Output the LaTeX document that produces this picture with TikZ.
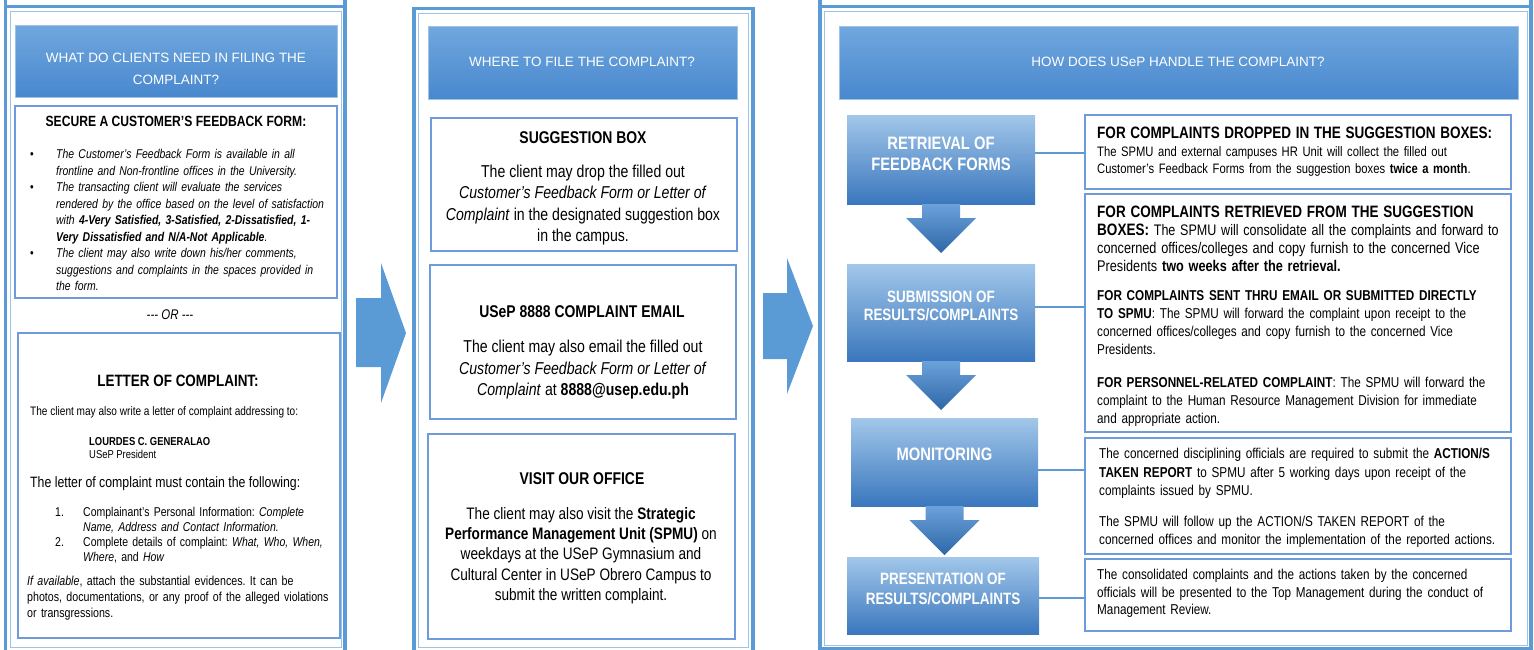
\documentclass[tikz,border=0pt]{standalone}
\usepackage{fontspec}
\usepackage{tikz}
\setmainfont{Liberation Sans}
\newfontfamily\narrowfont[FakeStretch=0.82]{Liberation Sans}
\definecolor{framecol}{HTML}{5B9BD5}
\definecolor{framelight}{HTML}{9DC3E6}
\definecolor{cardcol}{HTML}{6E9BDB}
\definecolor{headtop}{HTML}{70A7DE}
\definecolor{headbot}{HTML}{4988CE}
\definecolor{steptop}{HTML}{A2C7EA}
\definecolor{stepbot}{HTML}{3A77BD}
\definecolor{flowtop}{HTML}{6CA2DA}
\definecolor{flowbot}{HTML}{2D67A8}

\begin{document}
\frenchspacing
\begin{tikzpicture}[x=1pt,y=-1pt,
    panelframe/.style={draw=framecol, line width=3.2pt},
    innerframe/.style={draw=framelight, line width=1pt},
    headbox/.style={rectangle, top color=headtop, bottom color=headbot, draw=framelight, line width=0.6pt, inner sep=0pt, outer sep=0pt},
    headtext/.style={text=white, align=center, inner sep=0pt, font=\fontsize{13.5}{21.5}\selectfont},
    card/.style={rectangle, draw=cardcol, line width=1.2pt, fill=white, inner sep=0pt, outer sep=0pt},
    stepbox/.style={rectangle, top color=steptop, bottom color=stepbot, inner sep=0pt, outer sep=0pt},
    steptext/.style={text=white, align=center, inner sep=0pt},
    bodytext/.style={align=left, inner sep=0pt, anchor=north west},
    midtext/.style={align=center, inner sep=0pt, anchor=north},
    flowdown/.style={top color=flowtop, bottom color=flowbot},
    flowside/.style={fill=framecol},
    link/.style={draw=framecol, line width=1.8pt}
]

\useasboundingbox (0,0) rectangle (1534,649);

\draw[panelframe] (5.5,0) -- (5.5,660);
\draw[panelframe] (345,0) -- (345,660);
\draw[panelframe] (5.5,6.5) -- (345,6.5);
\draw[innerframe] (10,11) rectangle (341,647);

\draw[panelframe] (414,8.5) rectangle (753,660);
\draw[innerframe] (418.5,13) rectangle (748.5,647);

\draw[panelframe] (820,0) -- (820,660);
\draw[panelframe] (1531,0) -- (1531,660);
\draw[panelframe] (820,6.5) -- (1531,6.5);
\draw[panelframe] (820,649) -- (1531,649);
\draw[innerframe] (824.5,11) rectangle (1527,645.5);

\fill[flowside] (356,298) -- (381,298) -- (381,263) -- (406,333) -- (381,403) -- (381,367) -- (356,367) -- cycle;
\fill[flowside] (763,293) -- (787,293) -- (787,258) -- (813,326) -- (787,394) -- (787,359) -- (763,359) -- cycle;

\node[headbox, minimum width=322pt, minimum height=72pt] (needhead) at (176,61) {};
\node[card, minimum width=322pt, minimum height=192pt] (formcard) at (176,202) {};
\node[card, minimum width=322pt, minimum height=305pt] (lettercard) at (179,485.5) {};

\node[headbox, minimum width=309pt, minimum height=73pt] (wherehead) at (582.5,62.5) {};
\node[card, minimum width=306pt, minimum height=133pt] (boxcard) at (584,184.5) {};
\node[card, minimum width=306pt, minimum height=154pt] (mailcard) at (583,342) {};
\node[card, minimum width=307pt, minimum height=205pt] (officecard) at (581.5,536.5) {};

\node[headbox, minimum width=679pt, minimum height=73pt] (howhead) at (1178.5,62.5) {};
\node[stepbox, minimum width=188pt, minimum height=89pt] (retrieval) at (941,159.5) {};
\node[stepbox, minimum width=188pt, minimum height=97pt] (submission) at (941,312.5) {};
\node[stepbox, minimum width=187pt, minimum height=88pt] (monitoring) at (944.5,462) {};
\node[stepbox, minimum width=192pt, minimum height=77pt] (presentation) at (943,595.5) {};
\node[card, minimum width=426pt, minimum height=74pt] (dropped) at (1298,152) {};
\node[card, minimum width=426pt, minimum height=238pt] (retrieved) at (1298,313) {};
\node[card, minimum width=426pt, minimum height=116pt] (followup) at (1298,496) {};
\node[card, minimum width=426pt, minimum height=72pt] (review) at (1298,595) {};

\foreach \a in {retrieval, submission, monitoring}
    \shade[flowdown] ([xshift=-19pt]\a.south) -- ([xshift=-19pt,yshift=-14pt]\a.south) -- ([xshift=-35pt,yshift=-14pt]\a.south) -- ([yshift=-49pt]\a.south) -- ([xshift=35pt,yshift=-14pt]\a.south) -- ([xshift=19pt,yshift=-14pt]\a.south) -- ([xshift=19pt]\a.south) -- cycle;

\foreach \a/\b/\s in {retrieval/dropped/6.5pt, submission/retrieved/5.5pt, monitoring/followup/-8pt, presentation/review/-2.5pt}{
    \coordinate (from) at ([yshift=\s]\a.east);
    \draw[link] (from) -- (from -| \b.west);
}

\node[headtext] (needtitle) at (176,69) {WHAT DO CLIENTS NEED IN FILING THE\\COMPLAINT?};

\node[midtext, font=\narrowfont\bfseries\fontsize{14.8}{17}\selectfont] (formhead) at (176,116) {SECURE A CUSTOMER’S FEEDBACK FORM:};

\node[bodytext, text width=330pt, font=\narrowfont\itshape\fontsize{12.75}{16.5}\selectfont] (formlist) at (30,142) {%
\begin{list}{}{\setlength\leftmargin{26pt}\setlength\labelwidth{26pt}\setlength\labelsep{0pt}\setlength\itemsep{0pt}\setlength\parsep{0pt}\setlength\topsep{0pt}\setlength\partopsep{0pt}}
\item[{\makebox[26pt][l]{\upshape\textbullet}}] The Customer’s Feedback Form is available in all\\ frontline and Non-frontline offices in the University.
\item[{\makebox[26pt][l]{\upshape\textbullet}}] The transacting client will evaluate the services\\ rendered by the office based on the level of satisfaction\\ with \textbf{4-Very Satisfied, 3-Satisfied, 2-Dissatisfied, 1-}\\ \textbf{Very Dissatisfied and N/A-Not Applicable}.
\item[{\makebox[26pt][l]{\upshape\textbullet}}] The client may also write down his/her comments,\\ suggestions and complaints in the spaces provided in\\ the form.
\end{list}};

\node[inner sep=0pt, font=\narrowfont\itshape\fontsize{14}{16}\selectfont] (ordash) at (170,315) {-{}-{}- OR -{}-{}-};

\node[midtext, font=\narrowfont\bfseries\fontsize{16.4}{19}\selectfont] (letterhead) at (178,375.3) {LETTER OF COMPLAINT:};

\node[bodytext, font=\narrowfont\fontsize{12.3}{14}\selectfont] (letterline) at (30,406.7) {The client may also write a letter of complaint addressing to:};

\node[bodytext, font=\narrowfont\fontsize{11.5}{13}\selectfont] (addressee) at (89,437) {\textbf{LOURDES C. GENERALAO}\\USeP President};

\node[bodytext, font=\narrowfont\fontsize{15}{17}\selectfont] (mustline) at (30,476.7) {The letter of complaint must contain the following:};

\node[bodytext, text width=300pt, font=\narrowfont\fontsize{12.8}{15}\selectfont] (mustlist) at (55,501.2) {%
\begin{list}{}{\setlength\leftmargin{28pt}\setlength\labelwidth{28pt}\setlength\labelsep{0pt}\setlength\itemsep{0pt}\setlength\parsep{0pt}\setlength\topsep{0pt}\setlength\partopsep{0pt}}
\item[{\makebox[28pt][l]{1.}}] Complainant’s Personal Information: \textit{Complete}\\ \textit{Name, Address and Contact Information.}
\item[{\makebox[28pt][l]{2.}}] Complete details of complaint: \textit{What, Who, When,}\\ \textit{Where}, and \textit{How}
\end{list}};

\node[bodytext, text width=340pt, font=\narrowfont\fontsize{13}{15.7}\selectfont] (evidence) at (27,576.3) {\textit{If available}, attach the substantial evidences. It can be\\ photos, documentations, or any proof of the alleged violations\\ or transgressions.};

\node[headtext] (wheretitle) at (582,62) {WHERE TO FILE THE COMPLAINT?};

\node[midtext, font=\narrowfont\bfseries\fontsize{17}{20}\selectfont] (boxhead) at (583,131) {SUGGESTION BOX};

\node[midtext, font=\narrowfont\fontsize{17.2}{21.3}\selectfont] (boxtext) at (583,165) {The client may drop the filled out\\ \textit{Customer’s Feedback Form or Letter of}\\ \textit{Complaint} in the designated suggestion box\\ in the campus.};

\node[midtext, font=\narrowfont\bfseries\fontsize{17}{20}\selectfont] (mailhead) at (582,305) {USeP 8888 COMPLAINT EMAIL};

\node[midtext, font=\narrowfont\fontsize{17.2}{21.5}\selectfont] (mailtext) at (583,340) {The client may also email the filled out\\ \textit{Customer’s Feedback Form or Letter of}\\ \textit{Complaint} at \textbf{8888@usep.edu.ph}};

\node[midtext, font=\narrowfont\bfseries\fontsize{17}{20}\selectfont] (officehead) at (582,472) {VISIT OUR OFFICE};

\node[midtext, font=\narrowfont\fontsize{16.6}{20.3}\selectfont] (officetext) at (581,507) {The client may also visit the \textbf{Strategic}\\ \textbf{Performance Management Unit (SPMU)} on\\ weekdays at the USeP Gymnasium and\\ Cultural Center in USeP Obrero Campus to\\ submit the written complaint.};

\node[headtext] (howtitle) at (1178,62) {HOW DOES USeP HANDLE THE COMPLAINT?};

\node[steptext, font=\narrowfont\bfseries\fontsize{18}{21}\selectfont] (retrievaltext) at (941,153.5) {RETRIEVAL OF\\FEEDBACK FORMS};
\node[steptext, font=\narrowfont\bfseries\fontsize{16.4}{18}\selectfont] (submissiontext) at (941,306) {SUBMISSION OF\\RESULTS/COMPLAINTS};
\node[steptext, font=\narrowfont\bfseries\fontsize{18}{21}\selectfont] (monitoringtext) at (944.5,454) {MONITORING};
\node[steptext, font=\narrowfont\bfseries\fontsize{16.4}{20}\selectfont] (presentationtext) at (943,589) {PRESENTATION OF\\RESULTS/COMPLAINTS};

\node[bodytext, text width=420pt, font=\narrowfont\fontsize{13.7}{17.5}\selectfont] (droppedtext) at (1097,127) {{\fontsize{16.5}{17.5}\selectfont\bfseries FOR COMPLAINTS DROPPED IN THE SUGGESTION BOXES:}\\ The SPMU and external campuses HR Unit will collect the filled out\\ Customer’s Feedback Forms from the suggestion boxes \textbf{twice a month}.};

\node[bodytext, text width=420pt, font=\narrowfont\fontsize{14.3}{18}\selectfont] (retrievedtext) at (1097,206) {{\fontsize{16.5}{18}\selectfont\bfseries FOR COMPLAINTS RETRIEVED FROM THE SUGGESTION}\\ {\fontsize{16.5}{18}\selectfont\bfseries BOXES:} {\fontsize{15.3}{18}\selectfont The SPMU will consolidate all the complaints and forward to}\\ {\fontsize{15.5}{18}\selectfont concerned offices/colleges and copy furnish to the concerned Vice}\\ {\fontsize{15.5}{18}\selectfont Presidents \textbf{two weeks after the retrieval.}}\\[11pt] \textbf{FOR COMPLAINTS SENT THRU EMAIL OR SUBMITTED DIRECTLY}\\ \textbf{TO SPMU}: The SPMU will forward the complaint upon receipt to the\\ concerned offices/colleges and copy furnish to the concerned Vice\\ Presidents.\\[15pt] \textbf{FOR PERSONNEL-RELATED COMPLAINT}: The SPMU will forward the\\ complaint to the Human Resource Management Division for immediate\\ and appropriate action.};

\node[bodytext, text width=420pt, font=\narrowfont\fontsize{14.3}{18.5}\selectfont] (followuptext) at (1099,448) {The concerned disciplining officials are required to submit the \textbf{ACTION/S}\\ \textbf{TAKEN REPORT} to SPMU after 5 working days upon receipt of the\\ complaints issued by SPMU.\\[12pt] The SPMU will follow up the ACTION/S TAKEN REPORT of the\\ concerned offices and monitor the implementation of the reported actions.};

\node[bodytext, text width=420pt, font=\narrowfont\fontsize{14.3}{17.5}\selectfont] (reviewtext) at (1097,569) {The consolidated complaints and the actions taken by the concerned\\ officials will be presented to the Top Management during the conduct of\\ Management Review.};

\end{tikzpicture}
\end{document}
